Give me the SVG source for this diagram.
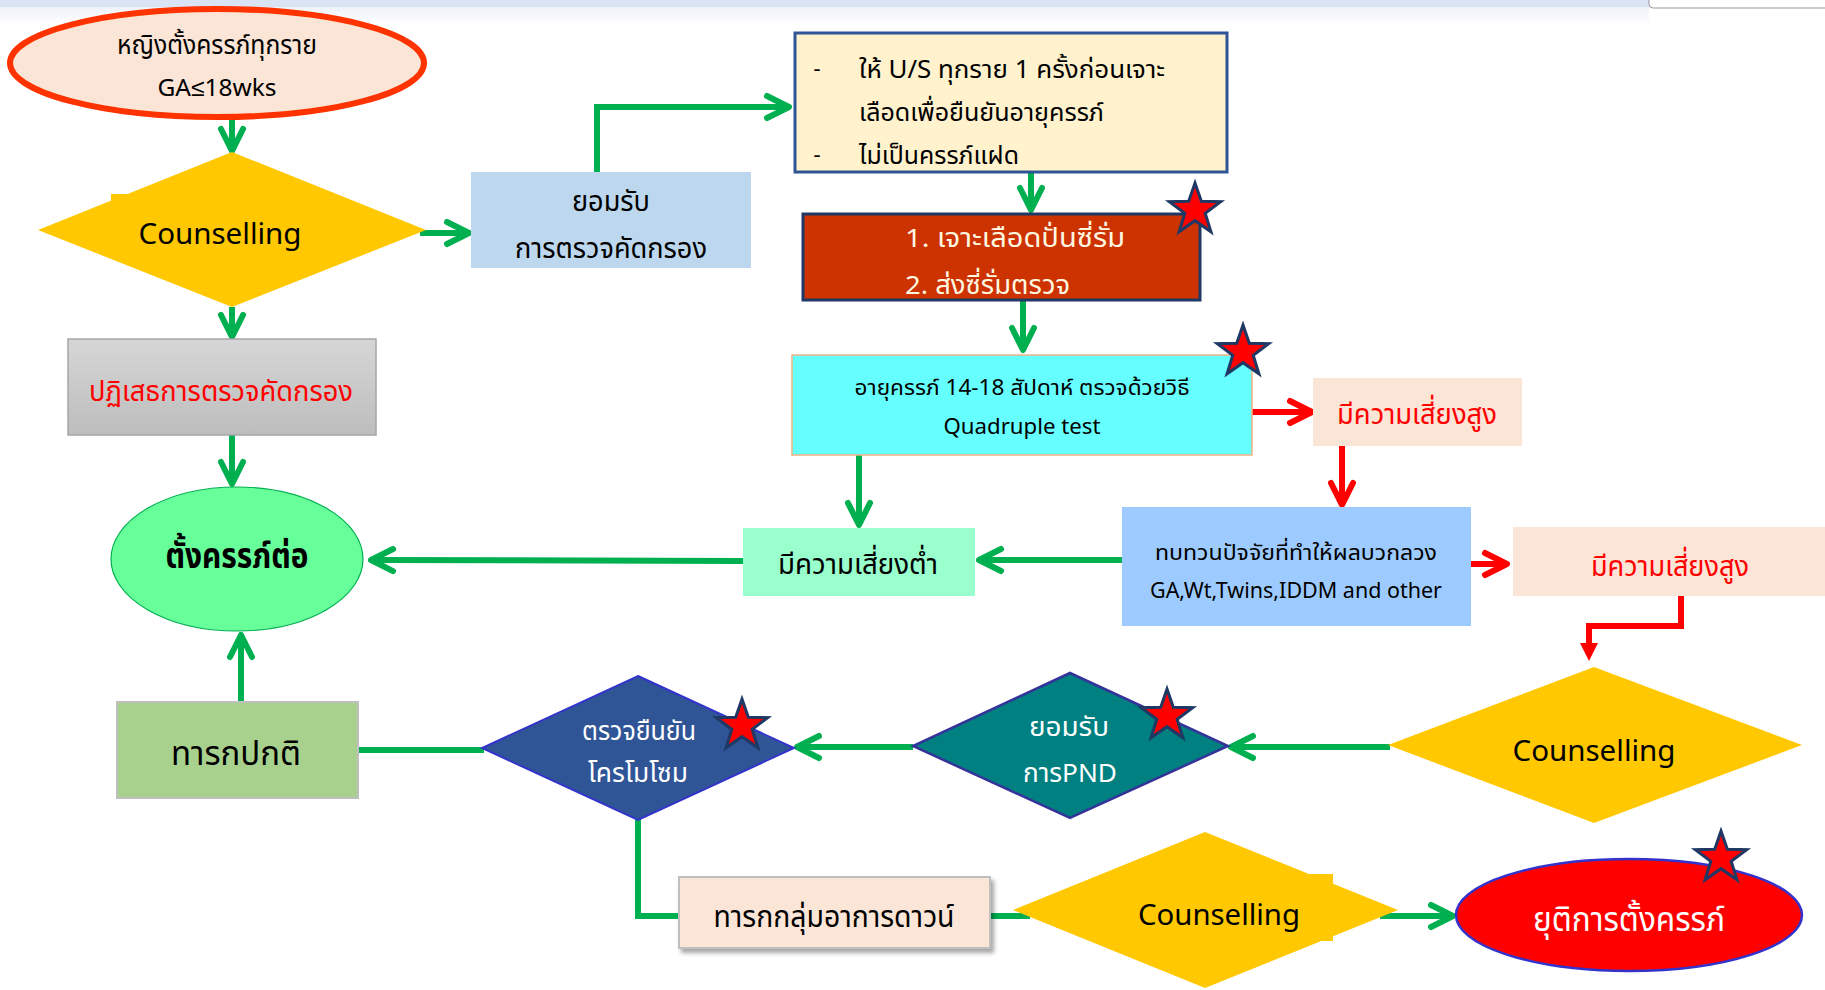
<svg xmlns="http://www.w3.org/2000/svg" xmlns:xlink="http://www.w3.org/1999/xlink" width="1825" height="990" viewBox="0 0 1825 990">
<style>
.t{font-family:"Leelawadee UI",Leelawadee,Tahoma,"Noto Sans Thai","Noto Sans Thai UI","Noto Sans",sans-serif;dominant-baseline:central;text-anchor:middle;fill:#000}
.s{text-anchor:start}
.cg{fill:none;stroke:#00b050;stroke-width:6}
.cr{fill:none;stroke:#ff0000;stroke-width:6}
.star{fill:#ff0000;stroke:#1f3864;stroke-width:3;stroke-linejoin:miter}
.yel{fill:#ffc800}
.pink{fill:#fbe5d6}
</style>
<defs>
<marker id="chG" viewBox="-30 -16 36 32" refX="0" refY="0" markerWidth="36" markerHeight="32" markerUnits="userSpaceOnUse" orient="auto">
<path d="M-22,-11 L0,0 L-22,11" fill="none" stroke="#00b050" stroke-width="6" stroke-linecap="round" stroke-linejoin="round"/>
</marker>
<marker id="chR" viewBox="-30 -16 36 32" refX="0" refY="0" markerWidth="36" markerHeight="32" markerUnits="userSpaceOnUse" orient="auto">
<path d="M-22,-11 L0,0 L-22,11" fill="none" stroke="#ff0000" stroke-width="6" stroke-linecap="round" stroke-linejoin="round"/>
</marker>
<linearGradient id="gGray" x1="0" y1="0" x2="0" y2="1">
<stop offset="0" stop-color="#d6d6d6"/><stop offset="1" stop-color="#bdbdbd"/>
</linearGradient>
<linearGradient id="gTop" x1="0" y1="0" x2="0" y2="1">
<stop offset="0" stop-color="#eef2fa"/><stop offset="1" stop-color="#fdfdfe"/>
</linearGradient>
<filter id="shadow" x="-10%" y="-20%" width="125%" height="150%">
<feDropShadow dx="3" dy="4" stdDeviation="2" flood-color="#000" flood-opacity="0.35"/>
</filter>
<path id="star" d="M0,-27 L6.3,-8.7 L25.7,-8.3 L10.2,3.3 L15.9,21.8 L0,10.7 L-15.9,21.8 L-10.2,3.3 L-25.7,-8.3 L-6.3,-8.7 Z"/>
</defs>
<rect x="0" y="0" width="1825" height="990" fill="#ffffff"/>
<g id="topbar">
<rect x="0" y="7" width="1649" height="16" fill="url(#gTop)"/>
<rect x="0" y="0" width="1649" height="7" fill="#dae3f3"/>
<path d="M1649,-2 L1649,4 Q1649,8 1653,8 L1826,8 L1826,-2 Z" fill="#ffffff" stroke="#9a9a9a" stroke-width="1"/>
</g>
<g id="connectors">
<line class="cg" x1="232" y1="119" x2="232" y2="151" marker-end="url(#chG)"/>
<line class="cg" x1="232" y1="307" x2="232" y2="337" marker-end="url(#chG)"/>
<line class="cg" x1="232" y1="435" x2="232" y2="484" marker-end="url(#chG)"/>
<line class="cg" x1="420" y1="233" x2="469" y2="233" marker-end="url(#chG)"/>
<polyline class="cg" points="597,175 597,107 789,107" marker-end="url(#chG)"/>
<line class="cg" x1="1031" y1="173" x2="1031" y2="210" marker-end="url(#chG)"/>
<line class="cg" x1="1023" y1="300" x2="1023" y2="350" marker-end="url(#chG)"/>
<line class="cg" x1="859" y1="455" x2="859" y2="525" marker-end="url(#chG)"/>
<line class="cg" x1="1122" y1="560" x2="979" y2="560" marker-end="url(#chG)"/>
<line class="cg" x1="743" y1="561" x2="371" y2="560" marker-end="url(#chG)"/>
<line class="cg" x1="1390" y1="747" x2="1231" y2="747" marker-end="url(#chG)"/>
<line class="cg" x1="913" y1="747" x2="797" y2="747" marker-end="url(#chG)"/>
<line class="cg" x1="484" y1="750" x2="358" y2="750"/>
<line class="cg" x1="241" y1="702" x2="241" y2="635" marker-end="url(#chG)"/>
<polyline class="cg" points="638,818 638,916 680,916"/>
<line class="cg" x1="989" y1="916" x2="1030" y2="916"/>
<line class="cg" x1="1380" y1="916" x2="1453" y2="916" marker-end="url(#chG)"/>
<line class="cr" x1="1252" y1="412" x2="1312" y2="412" marker-end="url(#chR)"/>
<line class="cr" x1="1342" y1="446" x2="1342" y2="505" marker-end="url(#chR)"/>
<line class="cr" x1="1470" y1="564" x2="1507" y2="564" marker-end="url(#chR)"/>
<polyline class="cr" points="1681,590 1681,626 1589,626 1589,646"/>
<path d="M1580,643 L1598,643 L1589,661 Z" fill="#ff0000"/>
</g>
<g id="n-start">
<ellipse cx="217" cy="63" rx="207" ry="54" fill="#fbe5d6" stroke="#ff3300" stroke-width="6"/>
<text class="t" x="217" y="46" font-size="26" textLength="200" lengthAdjust="spacingAndGlyphs">หญิงตั้งครรภ์ทุกราย</text>
<text class="t" x="217" y="89" font-size="24" textLength="119" lengthAdjust="spacingAndGlyphs">GA≤18wks</text>
</g>
<g id="n-counsel1">
<polygon class="yel" points="232,152 426,230 232,307 38,230"/>
<rect class="yel" x="111" y="194" width="60" height="60"/>
<text class="t" x="220" y="235" font-size="29" textLength="163" lengthAdjust="spacingAndGlyphs">Counselling</text>
</g>
<g id="n-accept">
<rect x="471" y="172" width="280" height="96" fill="#bdd7ee"/>
<text class="t" x="611" y="202" font-size="28" textLength="78" lengthAdjust="spacingAndGlyphs">ยอมรับ</text>
<text class="t" x="611" y="249" font-size="28" textLength="192" lengthAdjust="spacingAndGlyphs">การตรวจคัดกรอง</text>
</g>
<g id="n-us">
<rect x="795" y="33" width="432" height="139" fill="#fff2cc" stroke="#2f5597" stroke-width="3"/>
<text class="t" x="817" y="69" font-size="22">-</text>
<text class="t s" x="859" y="70" font-size="25" textLength="306" lengthAdjust="spacingAndGlyphs">ให้ U/S ทุกราย 1 ครั้งก่อนเจาะ</text>
<text class="t s" x="859" y="113" font-size="25" textLength="245" lengthAdjust="spacingAndGlyphs">เลือดเพื่อยืนยันอายุครรภ์</text>
<text class="t" x="817" y="155" font-size="22">-</text>
<text class="t s" x="859" y="156" font-size="25" textLength="160" lengthAdjust="spacingAndGlyphs">ไม่เป็นครรภ์แฝด</text>
</g>
<g id="n-blood">
<rect x="803" y="214" width="397" height="86" fill="#cc3300" stroke="#1f3864" stroke-width="3"/>
<text class="t s" x="905" y="239" font-size="26" style="fill:#fff8e0" textLength="220" lengthAdjust="spacingAndGlyphs">1. เจาะเลือดปั่นซี่รั่ม</text>
<text class="t s" x="905" y="286" font-size="26" style="fill:#fff8e0" textLength="165" lengthAdjust="spacingAndGlyphs">2. ส่งซี่รั่มตรวจ</text>
<use xlink:href="#star" href="#star" class="star" x="1195" y="210"/>
</g>
<g id="n-quad">
<rect x="792" y="355" width="460" height="100" fill="#66ffff" stroke="#f4b183" stroke-width="1.5"/>
<text class="t" x="1022" y="388" font-size="22" textLength="335" lengthAdjust="spacingAndGlyphs">อายุครรภ์ 14-18 สัปดาห์ ตรวจด้วยวิธี</text>
<text class="t" x="1022" y="427" font-size="21" textLength="157" lengthAdjust="spacingAndGlyphs">Quadruple test</text>
<use xlink:href="#star" href="#star" class="star" x="1243" y="352"/>
</g>
<g id="n-high1">
<rect class="pink" x="1313" y="378" width="209" height="68"/>
<text class="t" x="1417" y="415" font-size="29" style="fill:#ff0000" textLength="160" lengthAdjust="spacingAndGlyphs">มีความเสี่ยงสูง</text>
</g>
<g id="n-review">
<rect x="1122" y="507" width="349" height="119" fill="#9ecbff"/>
<text class="t" x="1296" y="553" font-size="22" textLength="282" lengthAdjust="spacingAndGlyphs">ทบทวนปัจจัยที่ทำให้ผลบวกลวง</text>
<text class="t" x="1296" y="591" font-size="21" textLength="292" lengthAdjust="spacingAndGlyphs">GA,Wt,Twins,IDDM and other</text>
</g>
<g id="n-low">
<rect x="743" y="528" width="232" height="68" fill="#99ffcc"/>
<text class="t" x="858" y="565" font-size="29" textLength="160" lengthAdjust="spacingAndGlyphs">มีความเสี่ยงต่ำ</text>
</g>
<g id="n-high2">
<rect class="pink" x="1513" y="527" width="312" height="69"/>
<text class="t" x="1670" y="567" font-size="29" style="fill:#ff0000" textLength="158" lengthAdjust="spacingAndGlyphs">มีความเสี่ยงสูง</text>
</g>
<g id="n-refuse">
<rect x="68" y="339" width="308" height="96" fill="url(#gGray)" stroke="#a6a6a6" stroke-width="1.5"/>
<text class="t" x="221" y="392" font-size="29" style="fill:#ff0000" textLength="264" lengthAdjust="spacingAndGlyphs">ปฏิเสธการตรวจคัดกรอง</text>
</g>
<g id="n-continue">
<ellipse cx="237" cy="559" rx="126" ry="72" fill="#66ff99" stroke="#00b050" stroke-width="1.2"/>
<text class="t" x="237" y="557" font-size="35" font-weight="bold" textLength="143" lengthAdjust="spacingAndGlyphs">ตั้งครรภ์ต่อ</text>
</g>
<g id="n-normal">
<rect x="117" y="702" width="241" height="96" fill="#a9d18e" stroke="#bfbfbf" stroke-width="2"/>
<text class="t" x="236" y="755" font-size="33" textLength="130" lengthAdjust="spacingAndGlyphs">ทารกปกติ</text>
</g>
<g id="n-chromo">
<polygon points="638,676 794,748 638,820 482,748" fill="#2f5597" stroke="#3333cc" stroke-width="2"/>
<text class="t" x="639" y="732" font-size="26" style="fill:#ffffff" textLength="114" lengthAdjust="spacingAndGlyphs">ตรวจยืนยัน</text>
<text class="t" x="638" y="774" font-size="26" style="fill:#ffffff" textLength="100" lengthAdjust="spacingAndGlyphs">โครโมโซม</text>
<use xlink:href="#star" href="#star" class="star" x="742" y="726"/>
</g>
<g id="n-pnd">
<polygon points="1070,673 1228,746 1070,818 913,746" fill="#008080" stroke="#333399" stroke-width="2.5"/>
<text class="t" x="1069" y="728" font-size="26" style="fill:#ffffff" textLength="80" lengthAdjust="spacingAndGlyphs">ยอมรับ</text>
<text class="t" x="1070" y="774" font-size="26" style="fill:#ffffff" textLength="94" lengthAdjust="spacingAndGlyphs">การPND</text>
<use xlink:href="#star" href="#star" class="star" x="1167" y="716"/>
</g>
<g id="n-counsel2">
<polygon class="yel" points="1594,667 1802,745 1594,823 1388,745"/>
<text class="t" x="1594" y="752" font-size="29" textLength="163" lengthAdjust="spacingAndGlyphs">Counselling</text>
</g>
<g id="n-down">
<rect x="679" y="877" width="311" height="71" fill="#fbe5d6" stroke="#bfbfbf" stroke-width="2" filter="url(#shadow)"/>
<text class="t" x="834" y="918" font-size="30" textLength="241" lengthAdjust="spacingAndGlyphs">ทารกกลุ่มอาการดาวน์</text>
</g>
<g id="n-counsel3">
<polygon class="yel" points="1205,832 1398,910 1205,988 1013,910"/>
<rect class="yel" x="1250" y="874" width="83" height="67"/>
<text class="t" x="1219" y="916" font-size="29" textLength="162" lengthAdjust="spacingAndGlyphs">Counselling</text>
</g>
<g id="n-terminate">
<ellipse cx="1629" cy="915" rx="173" ry="56" fill="#ff0000" stroke="#3333cc" stroke-width="2.5"/>
<text class="t" x="1629" y="921" font-size="33" style="fill:#ffffff" textLength="192" lengthAdjust="spacingAndGlyphs">ยุติการตั้งครรภ์</text>
<use xlink:href="#star" href="#star" class="star" x="1721" y="858"/>
</g>
</svg>
